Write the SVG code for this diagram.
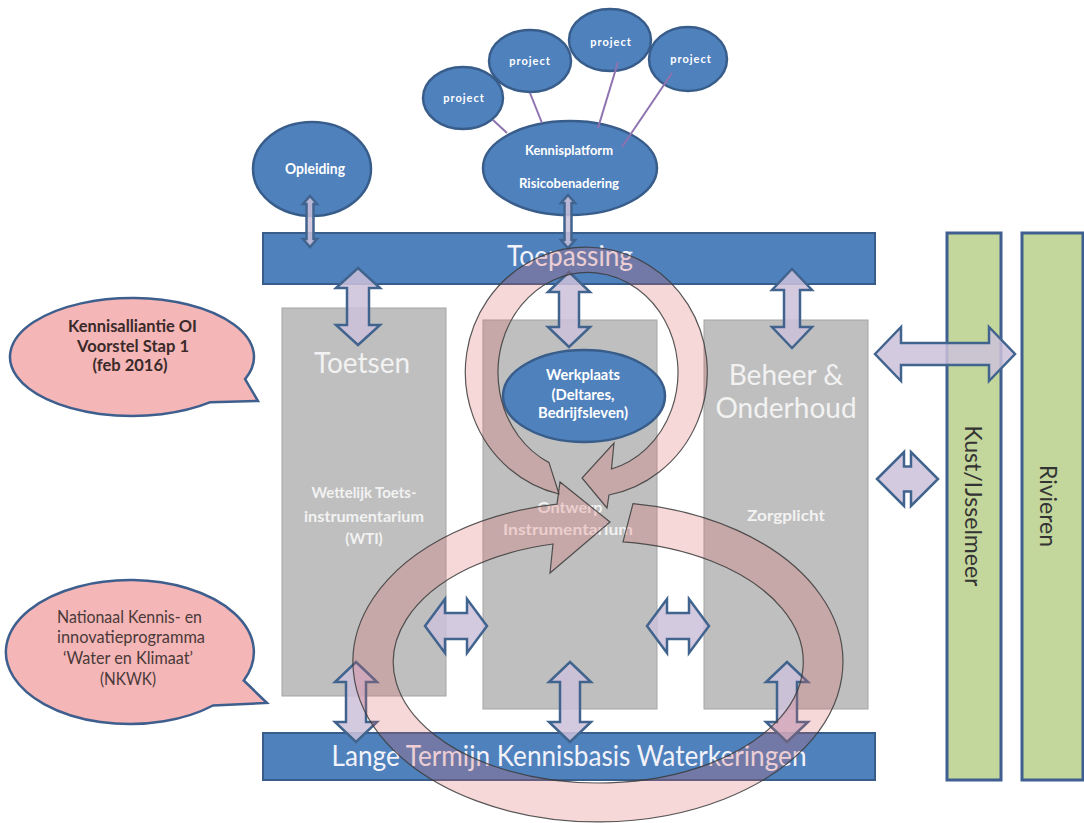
<svg xmlns="http://www.w3.org/2000/svg" width="1084" height="823" viewBox="0 0 1084 823">
<style>
  text { font-family: Lato, "Liberation Sans", sans-serif; }
  .bar { fill: #4f81bd; stroke: #385d8a; stroke-width: 2; }
  .col { fill: #bfbfbf; stroke: #a5a5a5; stroke-width: 1; }
  .green { fill: #c3d69b; stroke: #3f5f91; stroke-width: 3; }
  .node { fill: #4f81bd; stroke: #385d8a; stroke-width: 2.5; }
  .bubble { fill: #f4b6b6; stroke: #3e5f8e; stroke-width: 2.5; }
  .barTxt { fill: #f2f2fa; font-size: 28px; text-anchor: middle; }
  .colTitle { fill: #f2f2f2; font-size: 28px; text-anchor: middle; }
  .colSub { fill: #f2f2f2; font-size: 15px; font-weight: bold; text-anchor: middle; }
  .nodeTxt { fill: #ffffff; font-weight: bold; text-anchor: middle; }
  .proj { fill: #ffffff; font-size: 11px; font-weight: bold; letter-spacing: 1px; text-anchor: middle; }
  .vert { fill: #333333; font-size: 23px; text-anchor: middle; dominant-baseline: central; }
  .b1 { fill: #3a2a2a; font-size: 17px; font-weight: bold; text-anchor: middle; }
  .b2 { fill: #4a3a3a; font-size: 17.5px; text-anchor: middle; }
  .link { stroke: #8f72b0; stroke-width: 2; fill: none; }
  .barrow { fill: #ccc1da; fill-opacity: 0.85; stroke: #41648f; stroke-width: 2.5; stroke-linejoin: miter; }
  .cycle { fill: #dc6464; fill-opacity: 0.25; stroke: #3b3b3b; stroke-opacity: 0.85; stroke-width: 1.2; }
</style>

<!-- Bars -->
<g id="toepassing">
  <rect class="bar" x="263" y="233" width="612" height="51"/>
  <text class="barTxt" x="570" y="266" textLength="126" lengthAdjust="spacingAndGlyphs">Toepassing</text>
</g>
<g id="lange-termijn">
  <rect class="bar" x="263" y="733" width="612" height="47"/>
  <text class="barTxt" x="569" y="766" textLength="475" lengthAdjust="spacingAndGlyphs">Lange Termijn Kennisbasis Waterkeringen</text>
</g>

<!-- Columns -->
<g id="toetsen">
  <rect class="col" x="282" y="308" width="164" height="388"/>
  <text class="colTitle" x="362" y="373">Toetsen</text>
  <text class="colSub" x="364" y="498" textLength="105" lengthAdjust="spacingAndGlyphs">Wettelijk Toets-</text>
  <text class="colSub" x="364" y="522" textLength="120" lengthAdjust="spacingAndGlyphs">instrumentarium</text>
  <text class="colSub" x="364" y="544">(WTI)</text>
</g>
<g id="ontwerp">
  <rect class="col" x="483" y="320" width="174" height="389"/>
  <text class="colSub" x="570" y="513" textLength="65" lengthAdjust="spacingAndGlyphs">Ontwerp</text>
  <text class="colSub" x="568" y="535" textLength="130" lengthAdjust="spacingAndGlyphs">Instrumentarium</text>
</g>
<g id="beheer">
  <rect class="col" x="704" y="320" width="164" height="389"/>
  <text class="colTitle" x="786" y="385">Beheer &amp;</text>
  <text class="colTitle" x="786" y="418">Onderhoud</text>
  <text class="colSub" x="786" y="521" textLength="78" lengthAdjust="spacingAndGlyphs">Zorgplicht</text>
</g>

<!-- Green bars -->
<g id="kust">
  <rect class="green" x="947" y="233" width="54" height="547"/>
  <text class="vert" transform="translate(974 506) rotate(90)">Kust/IJsselmeer</text>
</g>
<g id="rivieren">
  <rect class="green" x="1022" y="233" width="61" height="547"/>
  <text class="vert" transform="translate(1049 506) rotate(90)">Rivieren</text>
</g>

<!-- Top ellipses -->
<g id="opleiding">
  <ellipse class="node" cx="312" cy="169" rx="59" ry="47"/>
  <text class="nodeTxt" x="315" y="174" font-size="15" textLength="60" lengthAdjust="spacingAndGlyphs">Opleiding</text>
</g>
<g id="kennisplatform">
  <ellipse class="node" cx="570" cy="168" rx="87" ry="47"/>
  <text class="nodeTxt" x="569" y="155" font-size="13.5" textLength="88" lengthAdjust="spacingAndGlyphs">Kennisplatform</text>
  <text class="nodeTxt" x="569" y="188" font-size="13.5" textLength="100" lengthAdjust="spacingAndGlyphs">Risicobenadering</text>
</g>
<g id="project1">
  <ellipse class="node" cx="463" cy="98" rx="40" ry="31"/>
  <text class="proj" x="464" y="102">project</text>
</g>
<g id="project2">
  <ellipse class="node" cx="530" cy="61" rx="41" ry="31"/>
  <text class="proj" x="530" y="65">project</text>
</g>
<g id="project3">
  <ellipse class="node" cx="610" cy="40" rx="41" ry="31"/>
  <text class="proj" x="611" y="46">project</text>
</g>
<g id="project4">
  <ellipse class="node" cx="688" cy="59" rx="39" ry="32"/>
  <text class="proj" x="691" y="63">project</text>
</g>

<!-- Werkplaats -->
<g id="werkplaats">
  <ellipse class="node" cx="584" cy="396" rx="81" ry="46"/>
  <text class="nodeTxt" x="583" y="380" font-size="14.5" textLength="74" lengthAdjust="spacingAndGlyphs">Werkplaats</text>
  <text class="nodeTxt" x="583" y="400" font-size="14.5" textLength="63" lengthAdjust="spacingAndGlyphs">(Deltares,</text>
  <text class="nodeTxt" x="583" y="418" font-size="14.5" textLength="90" lengthAdjust="spacingAndGlyphs">Bedrijfsleven)</text>
</g>

<!-- Callouts -->
<g id="callout-kennisalliantie">
  <path class="bubble" d="M245.1 379.1 L258 401 L210.4 402.2 A122 59 0 1 1 245.1 379.1 Z"/>
  <text class="b1" x="132.5" y="332" textLength="129" lengthAdjust="spacingAndGlyphs">Kennisalliantie OI</text>
  <text class="b1" x="133" y="352" textLength="112" lengthAdjust="spacingAndGlyphs">Voorstel Stap 1</text>
  <text class="b1" x="130" y="371" textLength="75" lengthAdjust="spacingAndGlyphs">(feb 2016)</text>
</g>
<g id="callout-nkwk">
  <path class="bubble" d="M243.8 680.5 L267 703 L213 705.5 A124 72 0 1 1 243.8 680.5 Z"/>
  <text class="b2" x="129.5" y="623" textLength="145" lengthAdjust="spacingAndGlyphs">Nationaal Kennis- en</text>
  <text class="b2" x="131" y="643" textLength="148" lengthAdjust="spacingAndGlyphs">innovatieprogramma</text>
  <text class="b2" x="128" y="664" textLength="130" lengthAdjust="spacingAndGlyphs">‘Water en Klimaat’</text>
  <text class="b2" x="128" y="685" textLength="56" lengthAdjust="spacingAndGlyphs">(NKWK)</text>
</g>

<!-- Connectors -->
<g id="connectors">
  <line class="link" x1="493" y1="120" x2="507" y2="133"/>
  <line class="link" x1="530" y1="93" x2="542" y2="123"/>
  <line class="link" x1="618" y1="62" x2="598" y2="128"/>
  <line class="link" x1="672" y1="73" x2="622" y2="147"/>

  <polygon class="barrow" stroke-width="2" points="310,196 317,204 313.5,204 313.5,239 317,239 310,247 303,239 306.5,239 306.5,204 303,204"/>
  <polygon class="barrow" stroke-width="2" points="568,195 575,203 571.5,203 571.5,240 575,240 568,248 561,240 564.5,240 564.5,203 561,203"/>

  <polygon class="barrow" points="358,268 380,288 369,288 369,325 380,325 358,345 336,325 347,325 347,288 336,288"/>
  <polygon class="barrow" points="569,272 590,292 579,292 579,327 590,327 569,347 548,327 559,327 559,292 548,292"/>
  <polygon class="barrow" points="792,269 812,290 800,290 800,327 812,327 792,348 772,327 784,327 784,290 772,290"/>

  <polygon class="barrow" points="356,662 377,682 366,682 366,722 377,722 356,742 335,722 346,722 346,682 335,682"/>
  <polygon class="barrow" points="570,662 591,682 580,682 580,722 591,722 570,742 549,722 560,722 560,682 549,682"/>
  <polygon class="barrow" points="787,662 808,682 797,682 797,722 808,722 787,742 766,722 777,722 777,682 766,682"/>

  <polygon class="barrow" points="425,626 445,599 445,613 467,613 467,599 487,626 467,653 467,639 445,639 445,653"/>
  <polygon class="barrow" points="647,626 667,599 667,613 689,613 689,599 709,626 689,653 689,639 667,639 667,653"/>

  <polygon class="barrow" points="875,354 901,327 901,343 989,343 989,327 1015,354 989,381 989,365 901,365 901,381"/>
  <polygon class="barrow" points="877,479 904,452 904,466.5 911,466.5 911,452 938,479 911,506 911,491.5 904,491.5 904,506"/>
</g>

<!-- Cycle overlay arrows -->
<g id="cycle-arrows">
  <path class="cycle" d="M549 462.6 A90 100 0 1 1 611.5 469 L614 443 L582 478 L607 508 L609 495 A121 125 0 1 0 559 494 Z"/>
  <path class="cycle" d="M610 522 L560 482 L557 504.2 A245 160 0 1 0 633 503.6 L623 541.9 A205 121 0 1 1 553 544 L550 573 Z"/>
</g>
</svg>
